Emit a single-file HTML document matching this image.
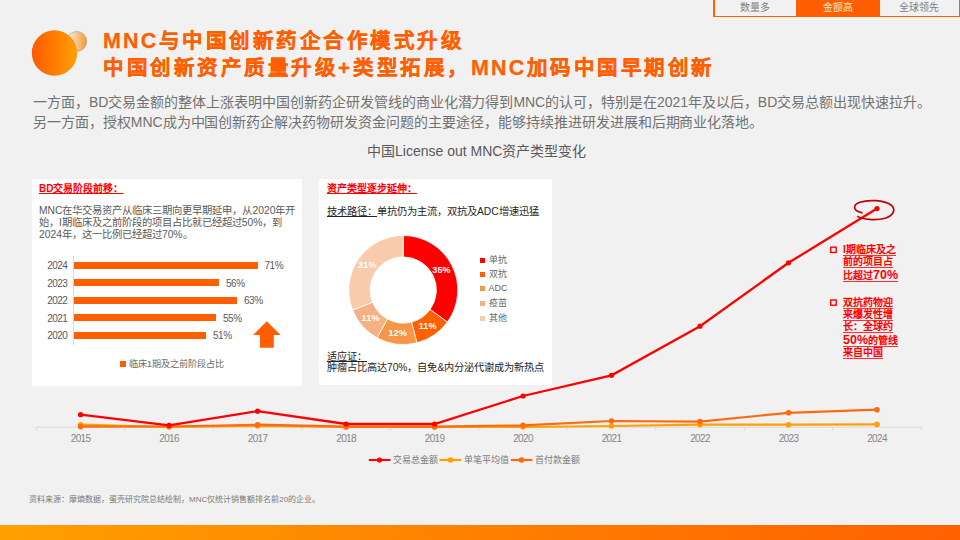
<!DOCTYPE html>
<html lang="zh-CN">
<head>
<meta charset="utf-8">
<style>
*{margin:0;padding:0;box-sizing:border-box;}
html,body{width:960px;height:540px;overflow:hidden;background:#f1f1f1;}
body{position:relative;font-family:"Liberation Sans",sans-serif;color:#595959;}
.abs{position:absolute;white-space:nowrap;}
.tabs{position:absolute;left:713px;top:0;width:247px;height:17px;border:1.5px solid #ff5f00;border-top:none;background:#ff5f00;display:flex;}
.tab{height:15.5px;font-size:10px;line-height:16px;text-align:center;color:#7f7f7f;background:#f1f1f1;}
.tab.on{background:#ff5f00;color:#fbe3d3;}
.title{position:absolute;left:103px;font-size:20.5px;font-weight:bold;color:#ff5f00;letter-spacing:3.5px;-webkit-text-stroke:0.25px #ff5f00;white-space:nowrap;line-height:26px;}
.para{position:absolute;left:33px;font-size:14px;font-weight:300;color:#727272;letter-spacing:-0.03px;white-space:nowrap;line-height:20px;}
.card{position:absolute;background:#fff;}
.redh{position:absolute;font-size:10px;font-weight:bold;color:#ff0000;text-decoration:underline;text-decoration-thickness:1px;white-space:nowrap;line-height:12px;}
.mnc{font-size:21.5px;letter-spacing:2.2px;}
.small{font-size:10.3px;line-height:12px;color:#595959;}
.bar{position:absolute;left:74px;height:7.4px;background:#ff5f00;}
.yl{position:absolute;left:36px;width:31.2px;text-align:right;font-size:10px;letter-spacing:-0.55px;line-height:12px;color:#595959;}
.vl{position:absolute;font-size:10px;letter-spacing:-0.45px;line-height:12px;color:#595959;}
.lg{position:absolute;font-size:9.1px;line-height:12px;color:#6a6a6a;white-space:nowrap;}
.sq{display:inline-block;width:6px;height:6px;}
.ann{position:absolute;left:843px;font-size:10px;font-weight:bold;color:#ff0000;white-space:nowrap;line-height:11px;height:12px;}
.ann .u{display:inline-block;border-bottom:1px solid rgba(255,0,0,0.8);line-height:12.4px;height:12px;}
.ann .big{font-size:12.5px;line-height:11px;}
.xl{position:absolute;font-size:10px;letter-spacing:-0.65px;color:#858585;line-height:12px;width:40px;text-align:center;}
.dl{position:absolute;font-size:9px;font-weight:bold;letter-spacing:0.2px;color:#fff;line-height:10px;transform:translate(-50%,-50%);white-space:nowrap;}
.lg2{position:absolute;left:480px;font-size:9px;line-height:12px;color:#666;white-space:nowrap;transform:translateY(-50%);}
.lg2 .sq{margin-right:3.5px;width:5px;height:5px;}
</style>
</head>
<body>
<!-- tabs -->
<div class="tabs">
  <div class="tab" style="width:80.5px;margin-left:1px;">数量多</div>
  <div class="tab on" style="width:84px;">金额高</div>
  <div class="tab" style="width:79px;">全球领先</div>
</div>

<!-- logo -->
<svg class="abs" style="left:0;top:0" width="100" height="90">
  <defs>
    <linearGradient id="g1" x1="0" y1="0" x2="1" y2="0">
      <stop offset="0" stop-color="#ff5a00"/><stop offset="1" stop-color="#ffa000"/>
    </linearGradient>
    <linearGradient id="g2" x1="0" y1="0" x2="1" y2="0">
      <stop offset="0.25" stop-color="#f6dccb"/><stop offset="1" stop-color="#f49a25"/>
    </linearGradient>
  </defs>
  <circle cx="76.8" cy="41.4" r="9.9" fill="url(#g2)" stroke="#b0a088" stroke-width="0.7"/>
  <circle cx="54.5" cy="53" r="22.7" fill="url(#g1)"/>
</svg>

<div class="title" style="top:28px;"><span class="mnc">MNC</span>与中国创新药企合作模式升级</div>
<div class="title" style="top:55px;">中国创新资产质量升级+类型拓展，<span class="mnc">MNC</span>加码中国早期创新</div>

<div class="para" style="top:92px;">一方面，BD交易金额的整体上涨表明中国创新药企研发管线的商业化潜力得到MNC的认可，特别是在2021年及以后，BD交易总额出现快速拉升。</div>
<div class="para" style="top:112px;">另一方面，授权MNC成为中国创新药企解决药物研发资金问题的主要途径，能够持续推进研发进展和后期商业化落地。</div>

<div class="abs" style="left:367px;top:142px;font-size:14px;line-height:18px;color:#595959;">中国License out MNC资产类型变化</div>

<!-- left card -->
<div class="card" style="left:32px;top:179px;width:270px;height:207px;"></div>
<div class="redh" style="left:39px;top:183px;">BD交易阶段前移：</div>
<div class="abs small" style="left:39px;top:205.2px;">MNC在华交易资产从临床三期向更早期延申，从2020年开</div>
<div class="abs small" style="left:39px;top:217.2px;">始，I期临床及之前阶段的项目占比就已经超过50%，到</div>
<div class="abs small" style="left:39px;top:229.2px;">2024年，这一比例已经超过70%。</div>

<div class="abs" style="left:73px;top:256px;width:1px;height:89px;background:#d9d9d9;"></div>
<div class="yl" style="top:260px;">2024</div><div class="bar" style="top:261.5px;width:183.5px;"></div><div class="vl" style="left:264.5px;top:260px;">71%</div>
<div class="yl" style="top:278px;">2023</div><div class="bar" style="top:279.0px;width:144.8px;"></div><div class="vl" style="left:226px;top:278px;">56%</div>
<div class="yl" style="top:295px;">2022</div><div class="bar" style="top:296.5px;width:163px;"></div><div class="vl" style="left:244px;top:295px;">63%</div>
<div class="yl" style="top:313px;">2021</div><div class="bar" style="top:314.0px;width:142px;"></div><div class="vl" style="left:223px;top:313px;">55%</div>
<div class="yl" style="top:330px;">2020</div><div class="bar" style="top:331.8px;width:131.8px;"></div><div class="vl" style="left:213px;top:330px;">51%</div>

<svg class="abs" style="left:253px;top:321px" width="28" height="28">
  <polygon points="0,14 13.8,0.3 27.6,14 20.8,14 20.8,26.8 7,26.8 7,14" fill="#ff5f00"/>
</svg>

<div class="lg" style="left:120px;top:358px;"><span class="sq" style="background:#ff5f00;margin-right:3px;"></span>临床1期及之前阶段占比</div>

<!-- middle card -->
<div class="card" style="left:319px;top:179px;width:233px;height:206px;"></div>
<div class="redh" style="left:327px;top:182.5px;">资产类型逐步延伸：</div>
<div class="abs" style="left:327px;top:205.3px;font-size:10.3px;line-height:13px;color:#262626;"><span style="text-decoration:underline;text-decoration-thickness:1px;">技术路径：</span>单抗仍为主流，双抗及ADC增速迅猛</div>

<svg class="abs" style="left:0;top:0" width="960" height="540">
<path d="M403.30,235.50 A54.5,54.5 0 0 1 447.39,322.03 L430.08,309.46 A33.1,33.1 0 0 0 403.30,256.90 Z" fill="#ff0000" stroke="#fff" stroke-width="0.8"/>
<path d="M447.39,322.03 A54.5,54.5 0 0 1 416.85,342.79 L411.53,322.06 A33.1,33.1 0 0 0 430.08,309.46 Z" fill="#ff6000" stroke="#fff" stroke-width="0.8"/>
<path d="M416.85,342.79 A54.5,54.5 0 0 1 377.04,337.76 L387.35,319.01 A33.1,33.1 0 0 0 411.53,322.06 Z" fill="#f79646" stroke="#fff" stroke-width="0.8"/>
<path d="M377.04,337.76 A54.5,54.5 0 0 1 352.63,310.06 L372.52,302.18 A33.1,33.1 0 0 0 387.35,319.01 Z" fill="#f4b183" stroke="#fff" stroke-width="0.8"/>
<path d="M352.63,310.06 A54.5,54.5 0 0 1 403.30,235.50 L403.30,256.90 A33.1,33.1 0 0 0 372.52,302.18 Z" fill="#f8cbad" stroke="#fff" stroke-width="0.8"/>
</svg>
<div class="dl" style="left:441.5px;top:269.9px;">35%</div>
<div class="dl" style="left:427.7px;top:325.8px;">11%</div>
<div class="dl" style="left:397.8px;top:332.5px;">12%</div>
<div class="dl" style="left:370.6px;top:318.1px;">11%</div>
<div class="dl" style="left:367.3px;top:264.7px;">31%</div>

<div class="lg2" style="top:259.7px;"><span class="sq" style="background:#ff0000;"></span>单抗</div>
<div class="lg2" style="top:274.3px;"><span class="sq" style="background:#ff6000;"></span>双抗</div>
<div class="lg2" style="top:288.2px;"><span class="sq" style="background:#f79646;"></span>ADC</div>
<div class="lg2" style="top:303px;"><span class="sq" style="background:#f4b183;"></span>疫苗</div>
<div class="lg2" style="top:317.6px;"><span class="sq" style="background:#f8cbad;"></span>其他</div>

<div class="abs" style="left:327px;top:349.6px;font-size:10.1px;line-height:13px;color:#262626;"><span style="text-decoration:underline;text-decoration-thickness:1px;">适应证：</span></div>
<div class="abs" style="left:327px;top:361.3px;font-size:10.2px;line-height:13px;color:#262626;">肿瘤占比高达70%，自免&amp;内分泌代谢成为新热点</div>
<svg class="abs" style="left:0;top:0" width="960" height="540">
<line x1="36.25" y1="427.2" x2="921.25" y2="427.2" stroke="#d9d9d9" stroke-width="1"/>
<line x1="36.25" y1="427.2" x2="36.25" y2="430.5" stroke="#d9d9d9" stroke-width="1"/>
<line x1="124.75" y1="427.2" x2="124.75" y2="430.5" stroke="#d9d9d9" stroke-width="1"/>
<line x1="213.25" y1="427.2" x2="213.25" y2="430.5" stroke="#d9d9d9" stroke-width="1"/>
<line x1="301.75" y1="427.2" x2="301.75" y2="430.5" stroke="#d9d9d9" stroke-width="1"/>
<line x1="390.25" y1="427.2" x2="390.25" y2="430.5" stroke="#d9d9d9" stroke-width="1"/>
<line x1="478.75" y1="427.2" x2="478.75" y2="430.5" stroke="#d9d9d9" stroke-width="1"/>
<line x1="567.25" y1="427.2" x2="567.25" y2="430.5" stroke="#d9d9d9" stroke-width="1"/>
<line x1="655.75" y1="427.2" x2="655.75" y2="430.5" stroke="#d9d9d9" stroke-width="1"/>
<line x1="744.25" y1="427.2" x2="744.25" y2="430.5" stroke="#d9d9d9" stroke-width="1"/>
<line x1="832.75" y1="427.2" x2="832.75" y2="430.5" stroke="#d9d9d9" stroke-width="1"/>
<line x1="921.25" y1="427.2" x2="921.25" y2="430.5" stroke="#d9d9d9" stroke-width="1"/>
<polyline points="80.6,424.7 169.1,427.0 257.6,426.0 346.1,427.0 434.6,427.0 523.0,427.0 611.5,426.0 700.0,424.7 788.5,424.7 877.0,424.4" fill="none" stroke="#ffa000" stroke-width="2.2"/><circle cx="80.6" cy="424.7" r="2.8" fill="#ffa000"/><circle cx="169.1" cy="427.0" r="2.8" fill="#ffa000"/><circle cx="257.6" cy="426.0" r="2.8" fill="#ffa000"/><circle cx="346.1" cy="427.0" r="2.8" fill="#ffa000"/><circle cx="434.6" cy="427.0" r="2.8" fill="#ffa000"/><circle cx="523.0" cy="427.0" r="2.8" fill="#ffa000"/><circle cx="611.5" cy="426.0" r="2.8" fill="#ffa000"/><circle cx="700.0" cy="424.7" r="2.8" fill="#ffa000"/><circle cx="788.5" cy="424.7" r="2.8" fill="#ffa000"/><circle cx="877.0" cy="424.4" r="2.8" fill="#ffa000"/>
<polyline points="80.6,426.6 169.1,426.5 257.6,424.7 346.1,426.7 434.6,426.7 523.0,425.3 611.5,421.0 700.0,421.6 788.5,412.8 877.0,409.7" fill="none" stroke="#ff6a10" stroke-width="2.2"/><circle cx="80.6" cy="426.6" r="2.8" fill="#ff6a10"/><circle cx="169.1" cy="426.5" r="2.8" fill="#ff6a10"/><circle cx="257.6" cy="424.7" r="2.8" fill="#ff6a10"/><circle cx="346.1" cy="426.7" r="2.8" fill="#ff6a10"/><circle cx="434.6" cy="426.7" r="2.8" fill="#ff6a10"/><circle cx="523.0" cy="425.3" r="2.8" fill="#ff6a10"/><circle cx="611.5" cy="421.0" r="2.8" fill="#ff6a10"/><circle cx="700.0" cy="421.6" r="2.8" fill="#ff6a10"/><circle cx="788.5" cy="412.8" r="2.8" fill="#ff6a10"/><circle cx="877.0" cy="409.7" r="2.8" fill="#ff6a10"/>
<polyline points="80.6,414.7 169.1,425.3 257.6,411.2 346.1,424.0 434.6,424.0 523.0,396.0 611.5,375.3 700.0,326.2 788.5,262.8 877.0,208.6" fill="none" stroke="#ff0000" stroke-width="2.3"/><circle cx="80.6" cy="414.7" r="2.6" fill="#ff0000"/><circle cx="169.1" cy="425.3" r="2.6" fill="#ff0000"/><circle cx="257.6" cy="411.2" r="2.6" fill="#ff0000"/><circle cx="346.1" cy="424.0" r="2.6" fill="#ff0000"/><circle cx="434.6" cy="424.0" r="2.6" fill="#ff0000"/><circle cx="523.0" cy="396.0" r="2.6" fill="#ff0000"/><circle cx="611.5" cy="375.3" r="2.6" fill="#ff0000"/><circle cx="700.0" cy="326.2" r="2.6" fill="#ff0000"/><circle cx="788.5" cy="262.8" r="2.6" fill="#ff0000"/><circle cx="877.0" cy="208.6" r="2.6" fill="#ff0000"/>
</svg>
<div class="xl" style="left:60.6px;top:432.5px;">2015</div><div class="xl" style="left:149.1px;top:432.5px;">2016</div><div class="xl" style="left:237.6px;top:432.5px;">2017</div><div class="xl" style="left:326.1px;top:432.5px;">2018</div><div class="xl" style="left:414.6px;top:432.5px;">2019</div><div class="xl" style="left:503.0px;top:432.5px;">2020</div><div class="xl" style="left:591.5px;top:432.5px;">2021</div><div class="xl" style="left:680.0px;top:432.5px;">2022</div><div class="xl" style="left:768.5px;top:432.5px;">2023</div><div class="xl" style="left:857.0px;top:432.5px;">2024</div>
<!-- legend -->
<svg class="abs" style="left:0;top:450px" width="960" height="20">
<line x1="368.75" y1="10" x2="390.5" y2="10" stroke="#ff0000" stroke-width="2"/><circle cx="379.5" cy="10" r="2.6" fill="#ff0000"/>
<line x1="439.5" y1="10" x2="461.25" y2="10" stroke="#ffa000" stroke-width="2.2"/><circle cx="450.5" cy="10" r="2.8" fill="#ffa000"/>
<line x1="510.75" y1="10" x2="532.5" y2="10" stroke="#ff6a10" stroke-width="2.2"/><circle cx="521.5" cy="10" r="2.8" fill="#ff6a10"/>
</svg>
<div class="lg" style="left:392.5px;top:454px;font-size:9px;color:#7a7a7a;">交易总金额</div>
<div class="lg" style="left:463.75px;top:454px;font-size:9px;color:#7a7a7a;">单笔平均值</div>
<div class="lg" style="left:534.5px;top:454px;font-size:9px;color:#7a7a7a;">首付款金额</div>

<!-- annotations -->
<svg class="abs" style="left:0;top:0" width="960" height="540">
<path d="M862.5,212.8 C853,211 852,205 860,202.2 C868,199.5 884,200 891,205 C896,209 894,215 886,218 C876,221 862,219.5 857.2,216.1" fill="none" stroke="#c00000" stroke-width="1.7"/>
<rect x="830.7" y="247.2" width="5.5" height="5.2" fill="none" stroke="#ff0000" stroke-width="1.4"/>
<rect x="830.7" y="300" width="5.5" height="5.2" fill="none" stroke="#ff0000" stroke-width="1.4"/>
</svg>
<div class="ann" style="top:243.8px;"><span class="u">I期临床及之</span></div>
<div class="ann" style="top:256.4px;"><span class="u">前的项目占</span></div>
<div class="ann" style="top:269.7px;"><span class="u">比超过<b class="big">70%</b></span></div>
<div class="ann" style="top:296.6px;"><span class="u">双抗药物迎</span></div>
<div class="ann" style="top:308.9px;"><span class="u">来爆发性增</span></div>
<div class="ann" style="top:320.7px;"><span class="u">长：全球约</span></div>
<div class="ann" style="top:335.2px;"><span class="u"><b class="big">50%</b>的管线</span></div>
<div class="ann" style="top:347.3px;"><span class="u">来自中国</span></div>

<div class="abs" style="left:29px;top:494px;font-size:8px;line-height:12px;color:#7a7a7a;">资料来源：摩熵数据，蛋壳研究院总结绘制，MNC仅统计销售额排名前20的企业。</div>

<div class="abs" style="left:0;top:525px;width:960px;height:15px;background:linear-gradient(90deg,#ffa000,#ff6000);"></div>
</body>
</html>
